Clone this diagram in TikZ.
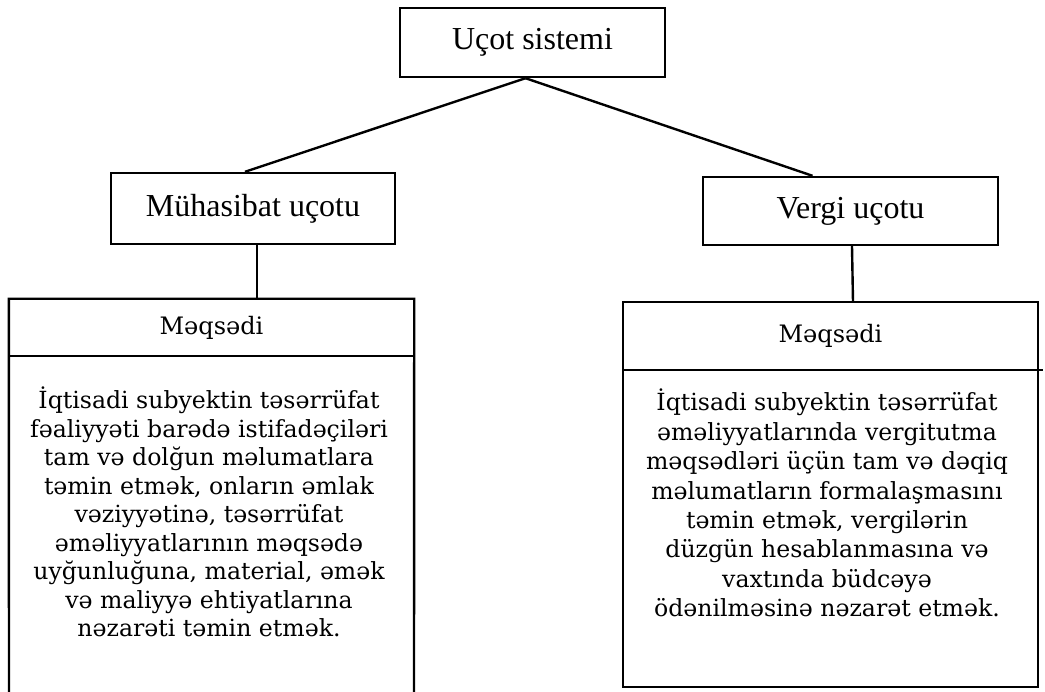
\documentclass[tikz,border=0pt]{standalone}
\usepackage{fontspec}
\usetikzlibrary{calc}
\newfontfamily\labelfont{Liberation Serif}
\newfontfamily\bodyfont{DejaVu Serif}
\tikzset{
  box/.style={draw, line width=2.4pt, inner sep=0pt},
  toplabel/.style={box, font=\labelfont\fontsize{32}{36}\selectfont},
  link/.style={line width=2.4pt},
  outline/.style={line width=2.4pt},
  heading/.style={inner sep=0pt, font=\bodyfont\fontsize{24}{28}\selectfont},
  bodytext/.style={inner sep=0pt, align=center},
}
\begin{document}
\begin{tikzpicture}[x=1pt,y=-1pt]
  \useasboundingbox (0,0) rectangle (1045,692);

  % upper level
  \node[toplabel, minimum width=265pt, minimum height=69pt] (sys) at (532.5,42.5) {Uçot sistemi};
  \node[toplabel, minimum width=284pt, minimum height=71pt] (acc) at (253,208.5) {Mühasibat uçotu};
  \node[toplabel, minimum width=295pt, minimum height=68pt] (tax) at (850.5,211) {Vergi uçotu};

  \coordinate (fork) at ($(sys.south)+(-7,0)$);
  \draw[link] (fork) -- ($(acc.north)+(-8,0)$);
  \draw[link] (fork) -- ($(tax.north)+(-38,0)$);

  % left goal panel (open at the bottom)
  \node[heading, minimum width=405pt, minimum height=57pt] (lhead) at (211.5,327.5) {Məqsədi};
  \draw[outline] (9,692) -- (lhead.south west) -- (lhead.north west) -- (lhead.north east) -- (lhead.south east) -- (414,692);
  \draw[outline] (lhead.south west) -- (lhead.south east);
  \node[bodytext, font=\bodyfont\fontsize{23.6}{28.5}\selectfont] (lbody) at (209,512) {%
    İqtisadi subyektin təsərrüfat\\
    fəaliyyəti barədə istifadəçiləri\\
    tam və dolğun məlumatlara\\
    təmin etmək, onların əmlak\\
    vəziyyətinə, təsərrüfat\\
    əməliyyatlarının məqsədə\\
    uyğunluğuna, material, əmək\\
    və maliyyə ehtiyatlarına\\
    nəzarəti təmin etmək.};
  \draw[link] ($(acc.south)+(4,0)$) -- ($(lhead.north)+(45.5,0)$);

  % right goal panel
  \node[heading, minimum width=415pt, minimum height=68pt] (rhead) at (830.5,336) {Məqsədi};
  \coordinate (rbottom) at (1038,687);
  \draw[outline] (rhead.north west) rectangle (rbottom);
  \draw[outline] (rhead.south west) -- ($(rhead.south east)+(5,0)$);
  \node[bodytext, font=\bodyfont\fontsize{23.6}{29.4}\selectfont] (rbody) at (827,503) {%
    İqtisadi subyektin təsərrüfat\\
    əməliyyatlarında vergitutma\\
    məqsədləri üçün tam və dəqiq\\
    məlumatların formalaşmasını\\
    təmin etmək, vergilərin\\
    düzgün hesablanmasına və\\
    vaxtında büdcəyə\\
    ödənilməsinə nəzarət etmək.};
  \draw[link] ($(tax.south)+(1.5,0)$) -- ($(rhead.north)+(22.5,0)$);
\end{tikzpicture}
\end{document}
